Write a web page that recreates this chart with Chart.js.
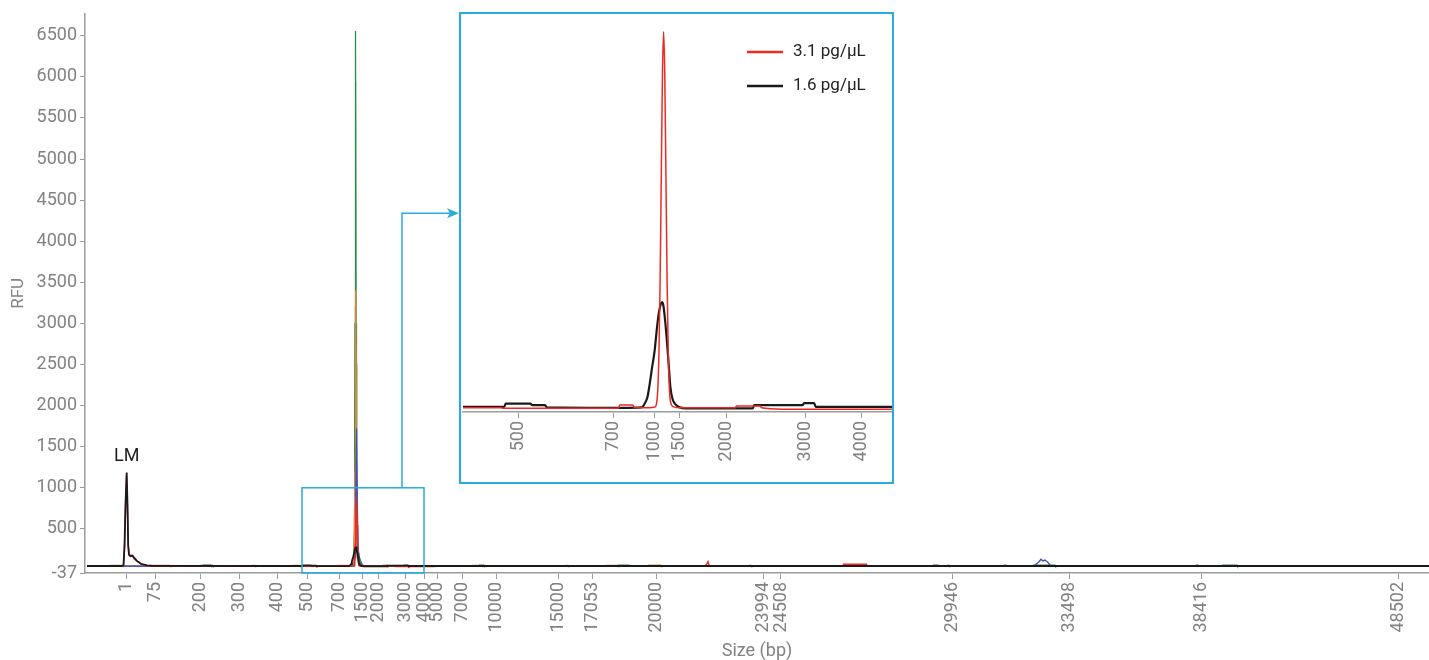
<!DOCTYPE html>
<html lang="en">
<head>
    <meta charset="UTF-8">
    <title>Electropherogram - RFU vs Size (bp)</title>
    <script src="https://cdn.jsdelivr.net/npm/chart.js@4.4.1/dist/chart.umd.min.js"></script>
    <style>
        body {
            margin: 0;
            background: #fff;
            overflow: hidden;
            font-family: 'Roboto', sans-serif;
        }
        .wrap {
            position: relative;
            width: 1429px;
            height: 660px;
        }
        #mainChart {
            position: absolute;
            left: 0;
            top: 0;
        }
        /* zoomed view of the 500 - 4000 bp window */
        .inset {
            position: absolute;
            left: 459px;
            top: 12px;
            width: 435px;
            height: 472px;
            border: 2px solid #29abe2;
            box-sizing: border-box;
            background: #fff;
        }
        #insetChart {
            position: absolute;
            left: 0;
            top: 0;
        }
    </style>
</head>
<body>
    <div class="wrap">
        <canvas id="mainChart" width="1429" height="660"></canvas>
        <div class="inset">
            <canvas id="insetChart" width="431" height="468"></canvas>
        </div>
    </div>

    <script>
        // ladder: size label (bp) -> migration time
        const ladderBp   = ['1', '75', '200', '300', '400', '500', '700', '1000', '1500', '2000', '3000', '4000', '5000', '7000', '10000', '15000', '17053', '20000', '23994', '24508', '29946', '33498', '38416', '48502'];
        const ladderTime = [4.1, 7.0, 11.5, 15.4, 19.2, 22.2, 25.45, 26.84, 27.7, 29.3, 32.0, 33.9, 35.2, 37.7, 41.1, 47.3, 50.7, 57.1, 67.8, 69.6, 86.7, 98.4, 111.6, 131.3];

        const mainLabels  = ['1', '75', '200', '300', '400', '500', '700', '1500', '2000', '3000', '4000', '5000', '7000', '10000', '15000', '17053', '20000', '23994', '24508', '29946', '33498', '38416', '48502'];
        const insetLabels = ['500', '700', '1000', '1500', '2000', '3000', '4000'];
        const rfuTicks = [-37, 500, 1000, 1500, 2000, 2500, 3000, 3500, 4000, 4500, 5000, 5500, 6000, 6500];

        // traces: [migration time, RFU]
        const trace16 = [[0.2,48],[3.7,48],[3.85,60],[3.95,300],[4.05,800],[4.17,1185],[4.25,800],[4.32,300],[4.4,190],[4.55,170],[4.75,175],[4.9,150],[5.2,110],[5.6,75],[6.2,55],[6.8,49],[20.3,48],[21.7,48],[21.75,55],[22.6,55],[22.65,52],[23.1,52],[23.15,47],[25.7,46],[26.4,47],[26.5,55],[26.6,70],[26.68,100],[26.76,135],[26.84,168],[26.9,205],[26.95,234],[27.0,256],[27.05,270],[27.1,275],[27.14,268],[27.2,236],[27.25,200],[27.3,160],[27.34,125],[27.38,92],[27.45,66],[27.55,54],[27.7,47],[27.9,45],[30.2,45],[30.25,52],[31.9,52],[31.95,56],[32.3,56],[32.35,48],[35.0,48],[134.4,48]];
        const trace31 = [[2.5,46],[3.7,46],[3.85,55],[3.95,250],[4.05,750],[4.15,1150],[4.24,780],[4.32,300],[4.4,180],[4.55,165],[4.75,170],[4.9,140],[5.2,105],[5.6,70],[6.2,52],[6.8,47],[20.3,46],[21.6,46],[21.65,45],[25.6,45],[25.65,52],[26.1,52],[26.15,47],[26.5,46],[26.85,48],[26.9,53],[26.95,84],[26.99,162],[27.03,318],[27.07,546],[27.11,766],[27.15,860],[27.19,766],[27.23,546],[27.27,318],[27.31,162],[27.35,84],[27.4,55],[27.5,48],[27.7,46],[29.6,46],[29.65,50],[30.45,50],[30.5,46],[31.2,43],[34.9,43],[35.2,46],[62.0,46],[62.2,75],[62.3,100],[62.4,60],[62.6,46],[75.8,46],[75.85,70],[78.15,70],[78.2,46],[116,46]];
        const traceGreen = [[2.5,47],[11.8,47],[11.85,58],[12.6,58],[12.65,47],[26.6,47],[26.85,80],[26.95,500],[27.0,3000],[27.05,6560],[27.1,3000],[27.15,800],[27.25,300],[27.45,150],[27.7,70],[27.9,47],[39.4,47],[39.45,58],[39.9,58],[39.95,47],[53.3,47],[53.35,58],[54.4,58],[54.45,47],[66.4,47],[66.45,56],[66.6,56],[66.65,47],[91.9,47],[91.95,58],[92.1,58],[92.15,47],[94.8,47],[94.85,60],[97.0,60],[97.05,47],[113.7,47],[113.75,60],[115.2,60],[115.25,47],[116,47]];
        const traceGreenB = [[2.5,47],[26.7,47],[26.9,120],[26.98,900],[27.03,3200],[27.07,5950],[27.12,2500],[27.2,500],[27.35,180],[27.6,80],[27.9,47],[116,47]];
        const traceOrange = [[2.5,47],[2.55,56],[3.8,56],[3.85,47],[6.5,47],[6.55,56],[8.5,56],[8.55,47],[16.7,47],[16.75,56],[17.0,56],[17.05,47],[20.8,47],[20.85,56],[21.5,56],[21.55,47],[25.2,47],[25.25,56],[26.2,56],[26.25,47],[26.7,47],[26.9,150],[27.0,1200],[27.07,3400],[27.13,1200],[27.22,300],[27.35,120],[27.6,60],[27.8,47],[29.8,47],[29.85,58],[30.2,58],[30.25,47],[38.7,47],[38.75,56],[39.7,56],[39.75,47],[48.1,47],[48.15,56],[48.3,56],[48.35,47],[52.1,47],[52.15,56],[53.3,56],[53.35,47],[56.3,47],[56.35,58],[57.6,58],[57.65,47],[86.2,47],[86.25,58],[86.4,58],[86.45,47],[116,47]];
        const traceOrangeB = [[2.5,47],[26.75,47],[26.95,300],[27.03,1400],[27.08,2750],[27.14,1000],[27.25,250],[27.5,80],[27.8,47],[116,47]];
        const traceBlue = [[2.5,47],[11.5,47],[11.55,56],[12.8,56],[12.85,47],[26.9,47],[27.0,150],[27.08,900],[27.15,1720],[27.22,900],[27.3,250],[27.45,100],[27.7,55],[27.9,47],[84.8,47],[84.85,58],[85.3,58],[85.35,47],[94.9,47],[95.1,70],[95.4,100],[95.6,130],[95.8,110],[96.0,120],[96.3,90],[96.5,60],[96.6,47],[111.1,47],[111.15,58],[111.3,58],[111.35,47],[116,47]];
        const traceBlueB = [[2.5,47],[26.95,47],[27.05,200],[27.12,800],[27.18,1300],[27.25,600],[27.35,150],[27.6,60],[27.8,47],[116,47]];

        // zoom window marked on the main plot and the connector to the inset
        const zoomBox = { t0: 21.7, t1: 33.9, rfu0: -37, rfu1: 1000 };
        const connector = { t: 31.7, rfu: 4342, tEnd: 37.4 };
        const lmMark = { t: 4.17, rfu: 1380 };

        const gray = '#828282';
        const axisGray = '#9c9c9c';
        const blue = '#29abe2';
        Chart.defaults.font.family = 'Roboto';

        const pts = arr => arr.map(p => ({ x: p[0], y: p[1] }));
        const line = (label, data, color, width, smooth) => ({
            label: label,
            data: pts(data),
            borderColor: color,
            borderWidth: width,
            pointRadius: 0,
            fill: false,
            tension: 0,
            cubicInterpolationMode: smooth ? 'monotone' : 'default'
        });

        function ladderTicks(labels) {
            return function (scale) {
                scale.ticks = labels.map(l => ({ value: ladderTime[ladderBp.indexOf(l)] }));
            };
        }

        const xTickStyle = (labels) => ({
            autoSkip: false,
            minRotation: 90,
            maxRotation: 90,
            padding: 3,
            color: gray,
            font: { size: 18 },
            callback: (v, i) => labels[i]
        });

        const zoomMarks = {
            id: 'zoomMarks',
            afterDatasetsDraw(chart) {
                const { ctx, scales: { x, y } } = chart;
                ctx.save();
                ctx.strokeStyle = blue;
                ctx.fillStyle = blue;
                ctx.lineWidth = 1.5;
                const l = x.getPixelForValue(zoomBox.t0), r = x.getPixelForValue(zoomBox.t1);
                const t = y.getPixelForValue(zoomBox.rfu1), b = y.getPixelForValue(zoomBox.rfu0);
                ctx.strokeRect(l, t, r - l, b - t);

                const cx = x.getPixelForValue(connector.t);
                const cy = y.getPixelForValue(connector.rfu);
                const ex = x.getPixelForValue(connector.tEnd);
                ctx.beginPath();
                ctx.moveTo(cx, t);
                ctx.lineTo(cx, cy);
                ctx.lineTo(ex - 8, cy);
                ctx.stroke();
                ctx.beginPath();
                ctx.moveTo(ex, cy);
                ctx.lineTo(ex - 12, cy - 5);
                ctx.lineTo(ex - 9, cy);
                ctx.lineTo(ex - 12, cy + 5);
                ctx.closePath();
                ctx.fill();

                ctx.fillStyle = '#222';
                ctx.font = '18px Roboto';
                ctx.textAlign = 'center';
                ctx.textBaseline = 'middle';
                ctx.fillText('LM', x.getPixelForValue(lmMark.t), y.getPixelForValue(lmMark.rfu));
                ctx.restore();
            }
        };

        new Chart(document.getElementById('mainChart'), {
            type: 'line',
            data: {
                datasets: [
                    line('1.6 pg/µL', trace16, '#1a1a1a', 1.8),
                    line('3.1 pg/µL', trace31, '#ec2a22', 1.4),
                    line('blue', traceBlue, '#3f4fb5', 1.3),
                    line('blue b', traceBlueB, 'rgba(110,120,200,0.45)', 1.3),
                    line('orange', traceOrange, '#f0843a', 1.3),
                    line('orange b', traceOrangeB, 'rgba(240,150,90,0.55)', 1.3),
                    line('green', traceGreen, '#2e8b47', 1.3),
                    line('green b', traceGreenB, 'rgba(70,150,90,0.5)', 1.3)
                ]
            },
            options: {
                responsive: false,
                animation: false,
                layout: { padding: { top: 12, left: 0, right: 0, bottom: 0 } },
                plugins: { legend: { display: false }, tooltip: { enabled: false } },
                scales: {
                    x: {
                        type: 'linear',
                        min: 0,
                        max: 134.4,
                        afterBuildTicks: ladderTicks(mainLabels),
                        afterFit: s => { s.height = 87; },
                        ticks: xTickStyle(mainLabels),
                        grid: { drawOnChartArea: false, drawTicks: true, tickLength: 6, color: axisGray },
                        border: { display: true, color: axisGray, width: 1.5 },
                        title: { display: true, text: 'Size (bp)', color: gray, font: { size: 18 }, padding: { top: 0, bottom: -2 } }
                    },
                    y: {
                        min: -37,
                        max: 6768,
                        afterBuildTicks: s => { s.ticks = rfuTicks.map(v => ({ value: v })); },
                        afterFit: s => { s.width = 85; },
                        ticks: { color: gray, font: { size: 18 }, padding: 3, callback: v => String(v) },
                        grid: { drawOnChartArea: false, drawTicks: true, tickLength: 5, color: axisGray },
                        border: { display: true, color: axisGray, width: 1.5 },
                        title: { display: true, text: 'RFU', color: gray, font: { size: 17 }, padding: { top: 9, bottom: 0 } }
                    }
                }
            },
            plugins: [zoomMarks]
        });

        const insetLegend = {
            id: 'insetLegend',
            afterDraw(chart) {
                const ctx = chart.ctx;
                ctx.save();
                ctx.font = '17px Roboto';
                ctx.textBaseline = 'middle';
                chart.data.datasets.forEach((ds, i) => {
                    const y = 38 + i * 34;
                    ctx.strokeStyle = ds.borderColor;
                    ctx.lineWidth = 2.5;
                    ctx.beginPath();
                    ctx.moveTo(286, y);
                    ctx.lineTo(322, y);
                    ctx.stroke();
                    ctx.fillStyle = '#222';
                    ctx.fillText(ds.label, 332, y);
                });
                ctx.restore();
            }
        };

        new Chart(document.getElementById('insetChart'), {
            type: 'line',
            data: {
                datasets: [
                    line('3.1 pg/µL', trace31, '#ec2a22', 1.5, true),
                    line('1.6 pg/µL', trace16, '#1a1a1a', 2.2, true)
                ]
            },
            options: {
                responsive: false,
                animation: false,
                layout: { padding: { top: 0, left: 2, right: 0, bottom: 0 } },
                plugins: { legend: { display: false }, tooltip: { enabled: false } },
                scales: {
                    x: {
                        type: 'linear',
                        min: 20.29,
                        max: 34.96,
                        afterBuildTicks: ladderTicks(insetLabels),
                        afterFit: s => { s.height = 70; },
                        ticks: xTickStyle(insetLabels),
                        grid: { drawOnChartArea: false, drawTicks: true, tickLength: 6, color: axisGray },
                        border: { display: true, color: axisGray, width: 1.5 }
                    },
                    y: {
                        display: false,
                        min: 37,
                        max: 898
                    }
                }
            },
            plugins: [insetLegend]
        });
    </script>
</body>
</html>
